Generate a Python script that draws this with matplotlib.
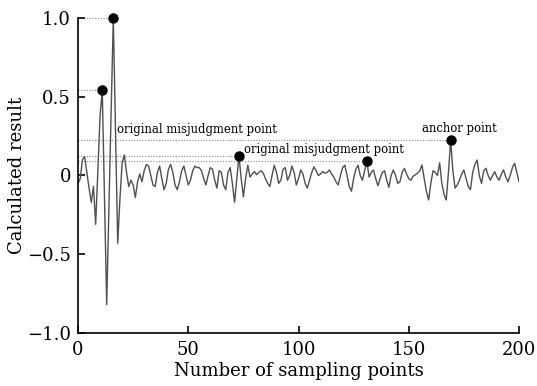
import numpy as np
import matplotlib
matplotlib.use("Agg")
from matplotlib import pyplot as plt

plt.rcParams['font.family'] = ['DejaVu Serif']
plt.rcParams['axes.unicode_minus'] = True

# calculated result for each sampling point (0..200)
result = [
    -0.05, -0.02, 0.10, 0.12, 0.02, -0.08, -0.17, -0.07, -0.31, 0.03,
    0.38, 0.54, -0.14, -0.82, -0.21, 0.39, 1.00, 0.28, -0.43, -0.15,
    0.08, 0.13, 0.02, -0.07, -0.03, -0.06, -0.14, -0.04, 0.01, -0.04,
    0.03, 0.07, 0.06, 0.00, -0.06, -0.07, 0.02, 0.06, -0.02, -0.09,
    -0.05, 0.04, 0.07, 0.02, -0.06, -0.09, -0.04, 0.03, 0.06, 0.00,
    -0.06, -0.03, 0.03, 0.06, 0.05, 0.05, 0.03, -0.02, -0.06, 0.00,
    0.05, 0.04, -0.03, -0.08, 0.03, 0.02, -0.06, -0.09, 0.02, 0.05,
    -0.05, -0.17, -0.02, 0.124, -0.02, -0.135, -0.02, 0.065, -0.01, 0.01,
    0.025, 0.005, 0.02, 0.03, 0.015, -0.02, -0.05, -0.07, 0.00, 0.065,
    0.02, -0.05, -0.03, 0.04, 0.05, -0.03, 0.00, 0.06, 0.02, -0.06,
    -0.02, 0.035, 0.01, -0.05, -0.08, -0.03, 0.02, 0.055, 0.03, 0.00,
    0.01, 0.025, 0.015, 0.02, 0.035, 0.01, -0.01, -0.04, -0.06, 0.00,
    0.05, 0.065, 0.00, -0.07, -0.10, -0.02, 0.04, 0.065, 0.00, -0.03,
    0.03, 0.092, -0.01, 0.02, 0.035, -0.02, -0.065, -0.02, 0.02, 0.03,
    -0.03, -0.075, 0.00, 0.035, 0.00, -0.05, -0.04, 0.02, 0.045, 0.01,
    -0.02, -0.03, -0.005, 0.005, 0.015, 0.03, 0.067, -0.02, -0.10, -0.155,
    -0.05, 0.03, 0.02, 0.00, 0.08, -0.05, -0.12, -0.155, 0.02, 0.225,
    0.03, -0.08, -0.06, -0.03, 0.01, 0.035, -0.02, -0.07, -0.09, 0.02,
    0.07, 0.098, 0.00, -0.05, 0.03, 0.046, 0.00, -0.03, 0.00, 0.024,
    -0.01, -0.03, 0.01, 0.035, -0.01, -0.04, 0.00, 0.05, 0.077, 0.02,
    -0.04,
]
x = np.arange(len(result))
y = np.array(result)

# marked points (indices into the series)
marked = [11, 16, 73, 131, 169]
labels = ["original misjudgment point", "original misjudgment point", "anchor point"]

fig = plt.figure(figsize=(5.37, 3.86), dpi=100)
ax = fig.add_axes([0.1453, 0.1373, 0.8212, 0.8161])

for i in marked:
    ax.plot([0, x[i]], [y[i], y[i]], ls=(0, (1, 1.5)), color="#888888", lw=0.8, zorder=1)

ax.plot(x, y, color="#505050", lw=1.0, zorder=2)
ax.plot(x[marked], y[marked], "o", color="black", ms=6.5, zorder=3, clip_on=False)

ax.text(17.5, 0.295, labels[0], fontsize=8.4, ha="left", va="center")
ax.text(75.3, 0.168, labels[1], fontsize=8.4, ha="left", va="center")
ax.text(156.0, 0.30, labels[2], fontsize=8.4, ha="left", va="center")

ax.set_xlim(0, 200)
ax.set_ylim(-1, 1)
ax.set_xticks([0, 50, 100, 150, 200])
ax.set_yticks([-1, -0.5, 0, 0.5, 1])
ax.set_yticklabels(["\u22121.0", "\u22120.5", "0", "0.5", "1.0"])
ax.spines["top"].set_visible(False)
ax.spines["right"].set_visible(False)
for s in ["left", "bottom"]:
    ax.spines[s].set_linewidth(1.2)
ax.tick_params(direction="in", length=5, width=1.2, labelsize=13)
ax.tick_params(axis="x", pad=6)
ax.tick_params(axis="y", pad=5)
ax.set_xlabel("Number of sampling points", fontsize=13, labelpad=2)
ax.set_ylabel("Calculated result", fontsize=13, labelpad=1)

fig.savefig("out.png", dpi=100)
